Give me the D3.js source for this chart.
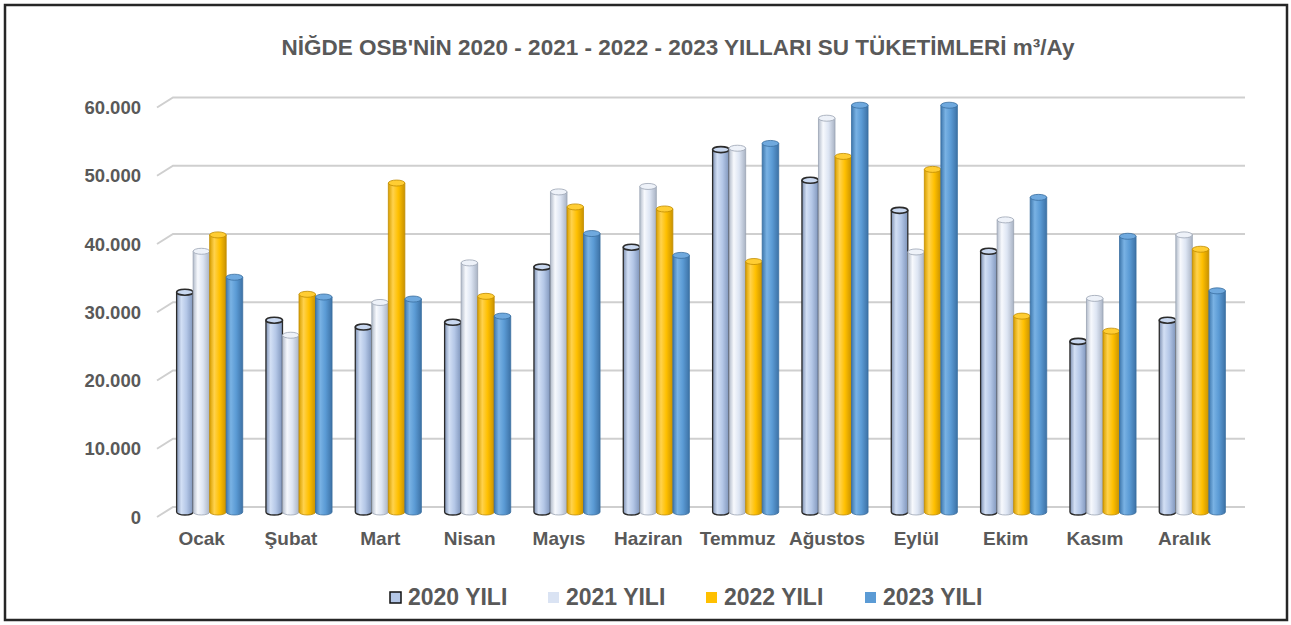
<!DOCTYPE html>
<html>
<head>
<meta charset="utf-8">
<script src="https://cdn.jsdelivr.net/npm/d3@7"></script>
<style>
  body { margin: 0; background: #fff; }
  svg text { font-family: "Liberation Sans", Arial, sans-serif; font-weight: bold; fill: #595959; }
</style>
</head>
<body>
<svg id="chart" width="1291" height="625"></svg>
<script>
let months = ["Ocak", "Şubat", "Mart", "Nisan", "Mayıs", "Haziran", "Temmuz", "Ağustos", "Eylül", "Ekim", "Kasım", "Aralık"];
let seriesNames = ["2020 YILI", "2021 YILI", "2022 YILI", "2023 YILI"];
let y2020 = [32200, 28100, 27100, 27800, 35900, 38800, 53100, 48600, 44200, 38200, 25000, 28100];
let y2021 = [38200, 25900, 30700, 36500, 46900, 47700, 53300, 57700, 38100, 42800, 31300, 40600];
let y2022 = [40600, 31900, 48200, 31600, 44700, 44400, 36700, 52100, 50200, 28700, 26500, 38500];
let y2023 = [34400, 31500, 31200, 28700, 40800, 37600, 54000, 59600, 59600, 46100, 40400, 32400];
let yTicks = [0, 10000, 20000, 30000, 40000, 50000, 60000];
let titleText = "NİĞDE OSB'NİN 2020 - 2021 - 2022 - 2023 YILLARI SU TÜKETİMLERİ m³/Ay";

let allSeries = [y2020, y2021, y2022, y2023];

// gradient stops per series: left edge, highlight, body, right edge, top face, outline
let colors = [
  { stops: ["#7d90b2", "#d3e0f5", "#b4c7e7", "#7f95bb"], top: "#c9d8f0", stroke: "#2b2b2b" },
  { stops: ["#b3bccb", "#f7f9fd", "#dde5f3", "#a9b3c4"], top: "#eef2f9", stroke: "#9aa3b3" },
  { stops: ["#d89f00", "#ffd24d", "#ffc000", "#c99200"], top: "#ffcd33", stroke: "#c08c00" },
  { stops: ["#3f78ad", "#79b2e4", "#5b9bd5", "#3d72a6"], top: "#6fa9de", stroke: "#3a6e9f" }
];

const svg = d3.select("#chart");
const depthX = 16, depthY = 10; // shift of the front plane from the back wall

let x = d3.scaleBand().domain(months).range([173, 1245]);
let y = d3.scaleLinear().domain([0, 60000]).range([507, 97.5]);
let groupW = x.bandwidth() * 0.74;
let xs = d3.scaleBand().domain(seriesNames).range([0, groupW]);
let fmt = d3.formatLocale({ decimal: ",", thousands: ".", grouping: [3], currency: ["", ""] }).format(",d");

// outer frame
svg.append("rect")
  .attr("x", 5).attr("y", 5).attr("width", 1282).attr("height", 615)
  .attr("fill", "#fff").attr("stroke", "#262626").attr("stroke-width", 2.5);

// title
svg.append("text")
  .attr("x", 678).attr("y", 55)
  .attr("text-anchor", "middle")
  .style("font-size", "22.5px")
  .text(titleText);

// gradients
let defs = svg.append("defs");
colors.forEach((c, i) => {
  let g = defs.append("linearGradient").attr("id", "grad" + i)
    .attr("x1", "0%").attr("x2", "100%").attr("y1", "0%").attr("y2", "0%");
  [[0, c.stops[0]], [0.28, c.stops[1]], [0.6, c.stops[2]], [1, c.stops[3]]].forEach(s => {
    g.append("stop").attr("offset", s[0]).attr("stop-color", s[1]);
  });
});

// grid lines with the little side-wall step on the left
let grid = svg.append("g");
yTicks.forEach(t => {
  let yy = y(t);
  grid.append("path")
    .attr("d", "M" + (x.range()[0] - depthX) + "," + (yy + depthY) + "L" + x.range()[0] + "," + yy + "L" + x.range()[1] + "," + yy)
    .attr("fill", "none").attr("stroke", "#cfcfcf").attr("stroke-width", 2);
});

// y labels
svg.append("g").selectAll("text").data(yTicks).join("text")
  .attr("x", 141)
  .attr("y", d => y(d) + depthY + 6.5)
  .attr("text-anchor", "end")
  .style("font-size", "18.5px")
  .text(d => fmt(d));

// month labels
svg.append("g").selectAll("text").data(months).join("text")
  .attr("x", d => x(d) + x.bandwidth() / 2 - depthX)
  .attr("y", 545)
  .attr("text-anchor", "middle")
  .style("font-size", "19px")
  .text(d => d);

// cylinders
let bars = svg.append("g");
let ry = 3;
months.forEach((m, mi) => {
  seriesNames.forEach((s, si) => {
    let v = allSeries[si][mi];
    let w = xs.bandwidth();
    let left = x(m) + (x.bandwidth() - groupW) / 2 + xs(s) - depthX / 2;
    let right = left + w;
    let cx = left + w / 2;
    let yTop = y(v) + depthY / 2;
    let yBot = y(0) + depthY / 2;
    let c = colors[si];
    let sw = si == 0 ? 1.3 : 0.8;
    bars.append("path")
      .attr("d", "M" + left + "," + yTop + "L" + left + "," + yBot +
        "A" + (w / 2) + "," + ry + " 0 0 0 " + right + "," + yBot + "L" + right + "," + yTop + "Z")
      .attr("fill", "url(#grad" + si + ")")
      .attr("stroke", c.stroke).attr("stroke-width", sw);
    bars.append("ellipse")
      .attr("cx", cx).attr("cy", yTop).attr("rx", w / 2).attr("ry", ry)
      .attr("fill", c.top)
      .attr("stroke", c.stroke).attr("stroke-width", si == 0 ? 1.6 : 0.8);
  });
});

// legend
let legendX = [390, 548, 706, 865];
let legend = svg.append("g");
seriesNames.forEach((s, i) => {
  let c = colors[i];
  legend.append("rect")
    .attr("x", legendX[i]).attr("y", 592).attr("width", 11).attr("height", 11)
    .attr("fill", i == 1 ? "#dae3f3" : c.stops[2])
    .attr("stroke", i == 0 ? "#111" : "none").attr("stroke-width", 1.5);
  legend.append("text")
    .attr("x", legendX[i] + 18).attr("y", 605)
    .style("font-size", "23px")
    .text(s);
});
</script>
</body>
</html>
